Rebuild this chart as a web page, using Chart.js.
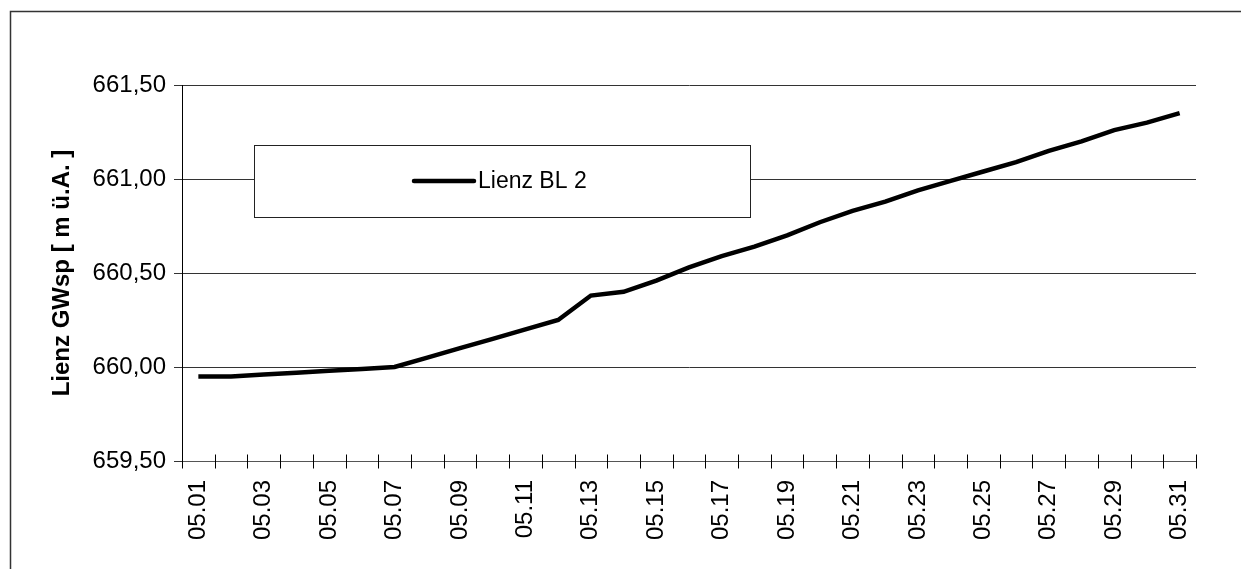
<!DOCTYPE html>
<html>
<head>
<meta charset="utf-8">
<script src="https://cdn.jsdelivr.net/npm/chart.js@4.4.1/dist/chart.umd.min.js"></script>
<style>
  html, body { margin: 0; padding: 0; background: #fff; }
  #wrap { width: 1241px; height: 569px; position: relative; }
</style>
</head>
<body>
<div id="wrap"><canvas id="c"></canvas></div>
<script>
// Daily dates (May), groundwater level in m above sea level
const days = [
  '05.01','05.02','05.03','05.04','05.05','05.06','05.07','05.08','05.09','05.10',
  '05.11','05.12','05.13','05.14','05.15','05.16','05.17','05.18','05.19','05.20',
  '05.21','05.22','05.23','05.24','05.25','05.26','05.27','05.28','05.29','05.30','05.31'
];
const levelBL2 = [
  659.95, 659.95, 659.96, 659.97, 659.98, 659.99, 660.00, 660.05, 660.10, 660.15,
  660.20, 660.25, 660.38, 660.40, 660.46, 660.53, 660.59, 660.64, 660.70, 660.77,
  660.83, 660.88, 660.94, 660.99, 661.04, 661.09, 661.15, 661.20, 661.26, 661.30, 661.35
];
const seriesName = 'Lienz BL 2';
const yMin = 659.5, yMax = 661.5, yStep = 0.5;
const yTitle = 'Lienz GWsp [ m ü.A. ]';

const FONT = 'Arial, "Liberation Sans", sans-serif';

// Outer frame of the chart object
const framePlugin = {
  id: 'frame',
  beforeDraw(chart) {
    const ctx = chart.ctx;
    ctx.save();
    ctx.fillStyle = '#fff';
    ctx.fillRect(0, 0, chart.width, chart.height);
    ctx.strokeStyle = '#333';
    ctx.lineWidth = 1.5;
    ctx.strokeRect(10.5, 11.5, chart.width + 40, chart.height + 40);
    ctx.restore();
  }
};

// Tick marks crossing the category axis at every day boundary
const crossTicks = {
  id: 'crossTicks',
  afterDraw(chart) {
    const xs = chart.scales.x, ys = chart.scales.y;
    const ctx = chart.ctx;
    const yAxis = Math.round(ys.getPixelForValue(yMin)) + 0.5;
    ctx.save();
    ctx.strokeStyle = '#000';
    ctx.lineWidth = 1;
    ctx.beginPath();
    for (let i = 0; i <= days.length; i++) {
      const x = Math.round(xs.getPixelForValue(i - 0.5)) + 0.5;
      ctx.moveTo(x, yAxis - 7);
      ctx.lineTo(x, yAxis + 7);
    }
    ctx.stroke();
    ctx.restore();
  }
};

// Boxed legend inside the plot area
const boxLegend = {
  id: 'boxLegend',
  afterDatasetsDraw(chart) {
    const ctx = chart.ctx;
    const ds = chart.data.datasets[0];
    const bx = 254.5, by = 145.5, bw = 496, bh = 72;
    ctx.save();
    ctx.fillStyle = '#fff';
    ctx.fillRect(bx, by, bw, bh);
    ctx.strokeStyle = '#222';
    ctx.lineWidth = 1;
    ctx.strokeRect(bx, by, bw, bh);
    const cy = by + bh / 2 - 0.5;
    ctx.strokeStyle = ds.borderColor;
    ctx.lineWidth = ds.borderWidth;
    ctx.lineCap = 'round';
    ctx.beginPath();
    ctx.moveTo(414, cy);
    ctx.lineTo(474, cy);
    ctx.stroke();
    ctx.fillStyle = '#000';
    ctx.font = '23px ' + FONT;
    ctx.textBaseline = 'middle';
    ctx.textAlign = 'left';
    ctx.fillText(ds.label, 478, cy + 1);
    ctx.restore();
  }
};

new Chart(document.getElementById('c'), {
  type: 'line',
  data: {
    labels: days,
    datasets: [{
      label: seriesName,
      data: levelBL2,
      borderColor: '#000',
      borderWidth: 4.5,
      pointRadius: 0,
      tension: 0,
      fill: false,
      borderJoinStyle: 'miter'
    }]
  },
  options: {
    responsive: true,
    maintainAspectRatio: false,
    animation: false,
    devicePixelRatio: 1,
    layout: { padding: { left: 0, right: 45, top: 85, bottom: 0 } },
    plugins: {
      legend: { display: false },
      tooltip: { enabled: false }
    },
    scales: {
      x: {
        type: 'category',
        offset: true,
        afterFit(scale) { scale.height = 108; },
        grid: {
          display: true,
          offset: true,
          drawOnChartArea: false,
          drawTicks: false,
          color: '#000'
        },
        border: { display: true, color: '#555', width: 1 },
        ticks: {
          autoSkip: false,
          maxRotation: 90,
          minRotation: 90,
          padding: 19,
          color: '#000',
          font: { family: FONT, size: 24 },
          callback(value, index) { return index % 2 === 0 ? days[index] : ''; }
        }
      },
      y: {
        min: yMin,
        max: yMax,
        afterFit(scale) { scale.width = 182; },
        afterBuildTicks(scale) {
          const t = [];
          for (let v = yMin; v <= yMax + 1e-9; v += yStep) t.push({ value: +v.toFixed(2) });
          scale.ticks = t;
        },
        grid: {
          color: '#333',
          lineWidth: 1,
          tickLength: 8,
          drawTicks: true
        },
        border: { display: true, color: '#000', width: 1 },
        ticks: {
          padding: 8,
          color: '#000',
          font: { family: FONT, size: 24 },
          callback(value) { return Number(value).toFixed(2).replace('.', ','); }
        },
        title: {
          display: true,
          text: yTitle,
          color: '#000',
          font: { family: FONT, size: 24, weight: 'bold' },
          padding: { top: 48, bottom: 0 }
        }
      }
    }
  },
  plugins: [framePlugin, crossTicks, boxLegend]
});
</script>
</body>
</html>
